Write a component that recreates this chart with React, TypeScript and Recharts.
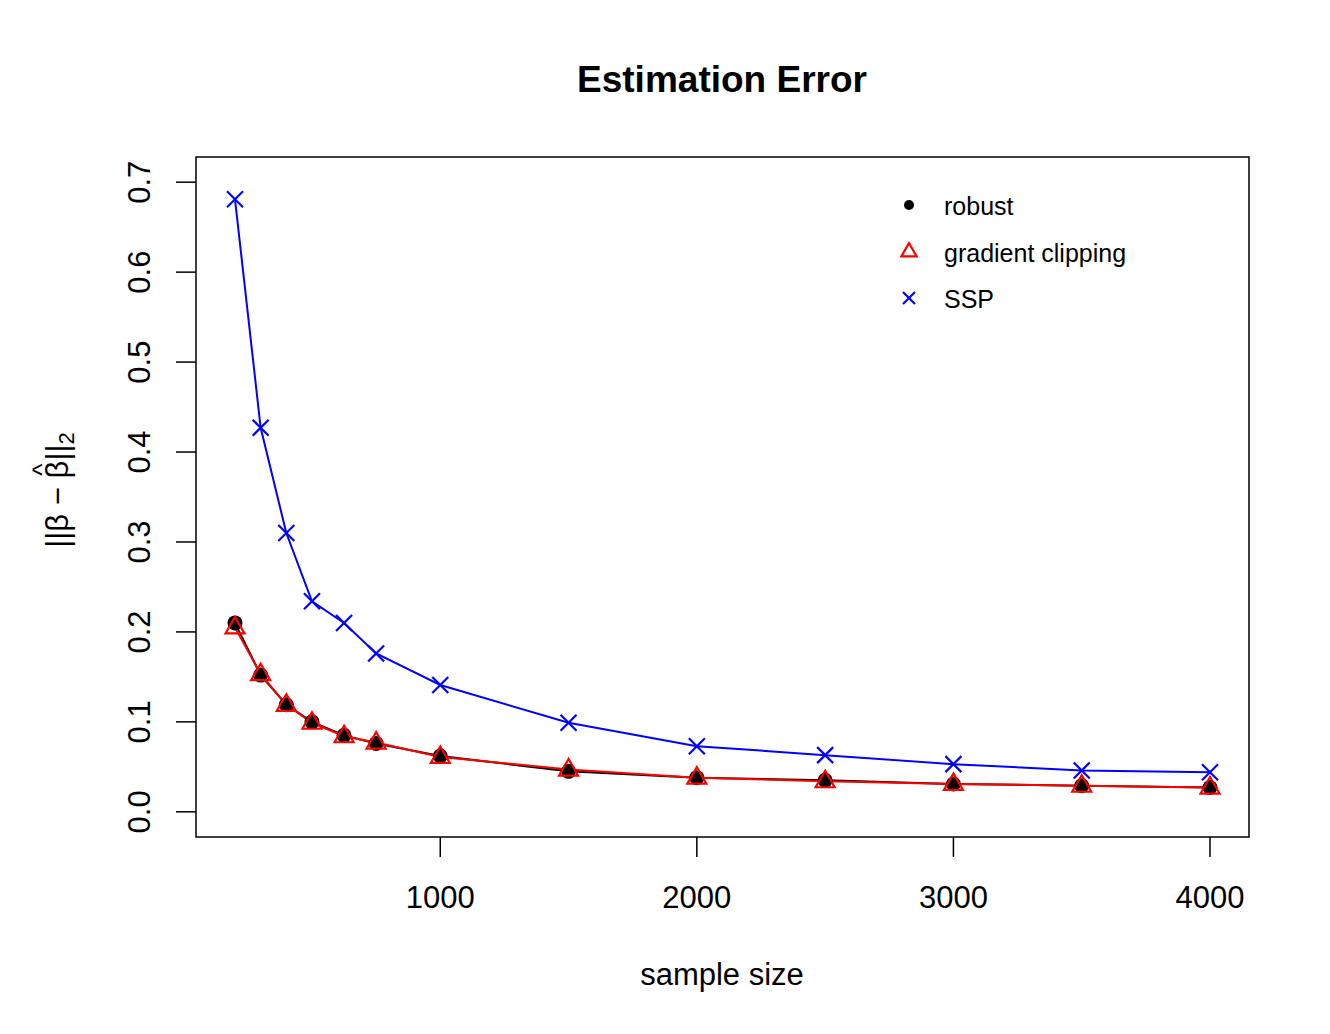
import { LineChart, Line, XAxis, YAxis, ReferenceArea } from "recharts";

const FONT = '"Liberation Sans", Arial, Helvetica, sans-serif';

// sample sizes on the x axis
const SAMPLE_SIZES = [200, 300, 400, 500, 625, 750, 1000, 1500, 2000, 2500, 3000, 3500, 4000];

// estimation error per method
const ROBUST = [0.21, 0.152, 0.119, 0.1, 0.085, 0.076, 0.062, 0.045, 0.038, 0.035, 0.031, 0.029, 0.027];
const CLIPPING = [0.205, 0.153, 0.119, 0.099, 0.084, 0.077, 0.061, 0.047, 0.038, 0.034, 0.031, 0.029, 0.027];
const SSP = [0.681, 0.427, 0.31, 0.234, 0.21, 0.176, 0.141, 0.099, 0.073, 0.063, 0.053, 0.046, 0.044];

const X_TICKS = [1000, 2000, 3000, 4000];
const Y_TICKS = [0, 0.1, 0.2, 0.3, 0.4, 0.5, 0.6, 0.7];

const data = SAMPLE_SIZES.map((n, i) => ({
  n,
  robust: ROBUST[i],
  clipping: CLIPPING[i],
  ssp: SSP[i],
}));

const CircleMark = ({ cx, cy, r = 7.5 }: any) =>
  cx == null ? null : <circle cx={cx} cy={cy} r={r} fill="#000" />;

const TriangleMark = ({ cx, cy, s = 1 }: any) =>
  cx == null ? null : (
    <polygon
      points={`${cx},${cy - 10.5 * s} ${cx - 9.5 * s},${cy + 6 * s} ${cx + 9.5 * s},${cy + 6 * s}`}
      fill="none"
      stroke="#ff0000"
      strokeWidth={2.2}
    />
  );

const CrossMark = ({ cx, cy, s = 1 }: any) =>
  cx == null ? null : (
    <g stroke="#0000ff" strokeWidth={2.2}>
      <line x1={cx - 8 * s} y1={cy - 8 * s} x2={cx + 8 * s} y2={cy + 8 * s} />
      <line x1={cx - 8 * s} y1={cy + 8 * s} x2={cx + 8 * s} y2={cy - 8 * s} />
    </g>
  );

const SERIES = [
  { key: "robust", name: "robust", color: "#000000", mark: CircleMark, legendProps: { r: 5 } },
  { key: "clipping", name: "gradient clipping", color: "#ff0000", mark: TriangleMark, legendProps: { s: 0.8 } },
  { key: "ssp", name: "SSP", color: "#0000ff", mark: CrossMark, legendProps: { s: 0.75 } },
];

const XTick = ({ x, y, payload }: any) => (
  <text x={x} y={y} textAnchor="middle" fontSize={31} fontFamily={FONT} fill="#000">
    {payload.value}
  </text>
);

const YTick = ({ x, y, payload }: any) => (
  <text
    x={x}
    y={y}
    transform={`rotate(-90 ${x} ${y})`}
    textAnchor="middle"
    fontSize={31}
    fontFamily={FONT}
    fill="#000"
  >
    {payload.value.toFixed(1)}
  </text>
);

export default function App() {
  return (
    <div style={{ position: "absolute", left: 0, top: 0, width: 1330, height: 1034, background: "#fff" }}>
      <LineChart
        width={1330}
        height={1034}
        data={data}
        margin={{ top: 157, right: 81, bottom: 157, left: 136 }}
      >
        <XAxis
          dataKey="n"
          type="number"
          domain={[48, 4152]}
          ticks={X_TICKS}
          allowDataOverflow
          height={40}
          axisLine={false}
          tickLine={{ stroke: "#000", strokeWidth: 1.5 }}
          tickSize={20}
          tickMargin={51}
          tick={<XTick />}
        />
        <YAxis
          type="number"
          domain={[-0.028, 0.728]}
          ticks={Y_TICKS}
          allowDataOverflow
          width={60}
          axisLine={false}
          tickLine={{ stroke: "#000", strokeWidth: 1.5 }}
          tickSize={20}
          tickMargin={26}
          tick={<YTick />}
        />
        <ReferenceArea
          x1={48}
          x2={4152}
          y1={-0.028}
          y2={0.728}
          fill="none"
          stroke="#000"
          strokeWidth={1.5}
          ifOverflow="visible"
        />
        {SERIES.map((s) => {
          const Mark = s.mark;
          return (
            <Line
              key={s.key}
              dataKey={s.key}
              type="linear"
              stroke={s.color}
              strokeWidth={2}
              dot={(p: any) => <Mark key={`${s.key}-${p.index}`} cx={p.cx} cy={p.cy} />}
              activeDot={false}
              isAnimationActive={false}
            />
          );
        })}
      </LineChart>

      <svg
        width={1330}
        height={1034}
        style={{ position: "absolute", left: 0, top: 0, pointerEvents: "none" }}
        fontFamily={FONT}
      >
        <text x={722} y={92} textAnchor="middle" fontSize={37} fontWeight="bold" fill="#000">
          Estimation Error
        </text>
        <text x={722} y={985} textAnchor="middle" fontSize={31} fill="#000">
          sample size
        </text>
        <text
          x={68}
          y={490}
          transform="rotate(-90 68 490)"
          textAnchor="middle"
          fontSize={31}
          fill="#000"
        >
          ||β − β
          <tspan fontSize={26} dx={-15} dy={-17}>
            ^
          </tspan>
          <tspan dx={3} dy={17}>
            ||
          </tspan>
          <tspan fontSize={22} dy={6}>
            2
          </tspan>
        </text>
        {SERIES.map((s, i) => {
          const Mark = s.mark;
          const cy = 205 + i * 46.5;
          return (
            <g key={s.key}>
              <Mark cx={909} cy={cy} {...s.legendProps} />
              <text x={944} y={cy + 10} fontSize={25} fill="#000">
                {s.name}
              </text>
            </g>
          );
        })}
      </svg>
    </div>
  );
}
